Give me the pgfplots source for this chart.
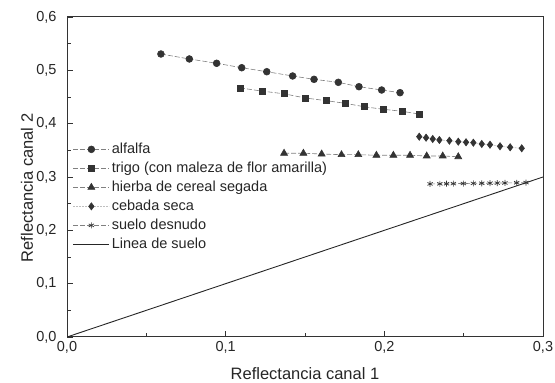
\documentclass[border=0pt]{standalone}
\usepackage{pgfplots}
\pgfplotsset{compat=1.18}
\usepackage{fontspec}
\setmainfont{Liberation Sans}
\begin{document}
\begin{tikzpicture}
\begin{axis}[
  scale only axis, width=476pt, height=320pt,
  xmin=0, xmax=0.3, ymin=0, ymax=0.6,
  xtick={0,0.1,0.2,0.3}, ytick={0,0.1,0.2,0.3,0.4,0.5,0.6},
  minor x tick num=1, minor y tick num=1,
  tick pos=left, tick align=inside,
  major tick length=6pt, minor tick length=3.5pt,
  tick style={black!80, line width=0.8pt},
  axis line style={black!80, line width=1pt},
  /pgf/number format/.cd, fixed, fixed zerofill, precision=1, use comma, assume math mode=true,
  /pgfplots/.cd,
  tick label style={font=\fontsize{14.5}{16}\selectfont, black!85},
  yticklabel style={xshift=-7pt},
  xticklabel style={yshift=-1pt},
  xlabel={Reflectancia canal 1}, ylabel={Reflectancia canal 2},
  label style={font=\fontsize{16.5}{18}\selectfont, black!85},
  xlabel style={at={(axis description cs:0.5,-0.113)}, anchor=center},
  ylabel style={at={(axis description cs:-0.084,0.466)}, anchor=center},
  legend style={at={(rel axis cs:0.012,0.612)}, anchor=north west, draw=none, fill=none,
    font=\fontsize{14.5}{16}\selectfont, row sep=3pt, inner sep=0pt,
    text=black!85},
  legend cell align=left,
  legend image code/.code={\draw[mark repeat=2,mark phase=2,#1] plot coordinates {(0pt,0pt) (18pt,0pt) (36pt,0pt)};},
  every axis plot/.append style={line width=0.6pt},
]
\addplot[gray, dash pattern=on 5pt off 2pt, mark=*, mark size=3.4pt, mark options={solid, fill=black!80, draw=black!80}]
coordinates {(0.0592,0.5306)(0.0771,0.5213)(0.0943,0.5132)(0.1101,0.5049)(0.1259,0.4974)(0.1422,0.4894)(0.1557,0.4831)(0.1710,0.4775)(0.1840,0.4693)(0.1983,0.4631)(0.2099,0.4581)};
\addlegendentry{alfalfa}
\addplot[gray, dash pattern=on 5pt off 2pt, mark=square*, mark size=3pt, mark options={solid, fill=black!80, draw=black!80}]
coordinates {(0.1090,0.4670)(0.1230,0.4610)(0.1368,0.4560)(0.1502,0.4481)(0.1632,0.4432)(0.1752,0.4382)(0.1872,0.4318)(0.1994,0.4269)(0.2112,0.4232)(0.2220,0.4180)};
\addlegendentry{trigo (con maleza de flor amarilla)}
\addplot[gray, dash pattern=on 5pt off 2pt, mark=triangle*, mark size=4pt, mark options={solid, fill=black!80, draw=black!80}]
coordinates {(0.1368,0.3445)(0.1490,0.3445)(0.1605,0.3431)(0.1730,0.3418)(0.1836,0.3418)(0.1950,0.3407)(0.2057,0.3407)(0.2162,0.3407)(0.2267,0.3394)(0.2368,0.3394)(0.2466,0.3380)};
\addlegendentry{hierba de cereal segada}
\addplot[gray!50, dash pattern=on 2pt off 1pt, mark=diamond*, mark size=3.6pt, mark options={solid, fill=black!80, draw=black!80}]
coordinates {(0.2220,0.3756)(0.2263,0.3737)(0.2305,0.3713)(0.2347,0.3694)(0.2410,0.3681)(0.2466,0.3662)(0.2515,0.3651)(0.2561,0.3643)(0.2614,0.3619)(0.2666,0.3606)(0.2729,0.3576)(0.2793,0.3557)(0.2866,0.3538)};
\addlegendentry{cebada seca}
\addplot[gray, dash pattern=on 5pt off 2pt, mark=asterisk, mark size=3pt, mark options={solid, draw=black!80, line width=0.7pt}]
coordinates {(0.2288,0.2870)(0.2350,0.2872)(0.2392,0.2874)(0.2435,0.2876)(0.2498,0.2878)(0.2561,0.2880)(0.2614,0.2882)(0.2666,0.2884)(0.2712,0.2886)(0.2760,0.2888)(0.2834,0.2892)(0.2893,0.2895)};
\addlegendentry{suelo desnudo}
\addplot[black!85, line width=0.9pt, no marks]
coordinates {(0,0)(0.3,0.3)};
\addlegendentry{Linea de suelo}
\end{axis}
\pgfresetboundingbox
\path[use as bounding box] ([xshift=-67pt,yshift=-46pt]current axis.south west) rectangle ([xshift=12pt,yshift=17pt]current axis.north east);
\end{tikzpicture}
\end{document}
